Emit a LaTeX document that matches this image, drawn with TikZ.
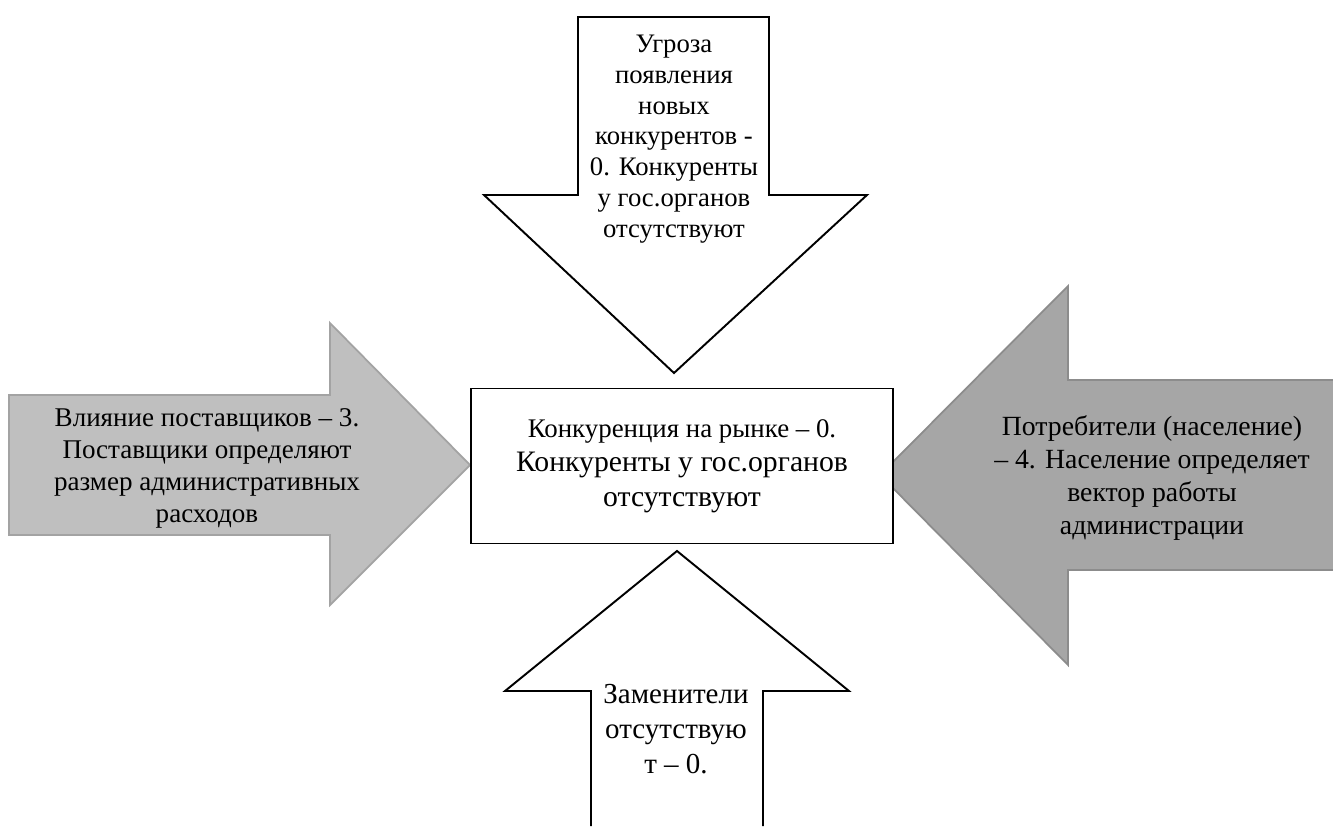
\documentclass[tikz,border=0pt]{standalone}
\usepackage{fontspec}
\IfFontExistsTF{Liberation Serif}{\setmainfont{Liberation Serif}}{\setmainfont{DejaVu Serif}}
\usetikzlibrary{positioning}
\definecolor{ink}{HTML}{000000}
\definecolor{lightgrey}{HTML}{BFBFBF}
\definecolor{lightedge}{HTML}{A3A3A3}
\definecolor{midgrey}{HTML}{A6A6A6}
\definecolor{midedge}{HTML}{8C8C8C}
\tikzset{
  whitearrow/.style={draw=ink,fill=white,line width=1.1pt},
  lightarrow/.style={draw=lightedge,fill=lightgrey,line width=1pt},
  darkarrow/.style={draw=midedge,fill=midgrey,line width=1pt},
  centrebox/.style={draw=ink,fill=white,line width=1.1pt,minimum width=8.44cm,minimum height=3.1cm,align=center,inner sep=0pt},
  arrowtext/.style={align=center,font=\rmfamily\fontsize{15.4}{18.2}\selectfont,inner sep=0pt}}

\begin{document}
\begin{tikzpicture}[x=0.02cm,y=-0.02cm]
  \useasboundingbox (0,0) rectangle (1333,826);
  % block arrows
  \draw[whitearrow] (578,17) -- (769,17) -- (769,195) -- (867,195) -- (674,373)
    -- (484,195) -- (578,195) -- cycle;
  \draw[lightarrow] (9,395) -- (330,395) -- (330,323) -- (470,465) -- (330,605)
    -- (330,535) -- (9,535) -- cycle;
  \fill[midgrey] (1333,380) -- (1068,380) -- (1068,286) -- (880,475) -- (1068,665)
    -- (1068,570) -- (1333,570) -- cycle;
  \draw[darkarrow] (1333,380) -- (1068,380) -- (1068,286) -- (880,475) -- (1068,665)
    -- (1068,570) -- (1333,570);
  \fill[white] (591,826) -- (591,691) -- (505,691) -- (677,551) -- (849,691)
    -- (763,691) -- (763,826) -- cycle;
  \draw[whitearrow] (591,826) -- (591,691) -- (505,691) -- (677,551) -- (849,691)
    -- (763,691) -- (763,826);
  % centre
  \node[centrebox,font=\rmfamily\fontsize{16.9}{19.5}\selectfont] (market) at (682,466)
    {{\fontsize{15.3}{18}\selectfont Конкуренция на рынке – 0.}\\
    Конкуренты у гос.органов\\
    отсутствуют};
  % labels
  \node[arrowtext,font=\rmfamily\fontsize{15.2}{17.5}\selectfont] (entrants) at (674,139) {Угроза\\появления\\новых\\конкурентов -\\0. Конкуренты\\у гос.органов\\отсутствуют};
  \node[arrowtext] (suppliers) at (207,468) {Влияние поставщиков – 3.\\Поставщики определяют\\размер административных\\расходов};
  \node[arrowtext,font=\rmfamily\fontsize{15.8}{18.8}\selectfont] (buyers) at (1152,478) {Потребители (население)\\– 4. Население определяет\\вектор работы\\администрации};
  \node[arrowtext,font=\rmfamily\fontsize{16.5}{20}\selectfont] (substitutes) at (676,729) {Заменители\\отсутствую\\т – 0.};
\end{tikzpicture}
\end{document}
